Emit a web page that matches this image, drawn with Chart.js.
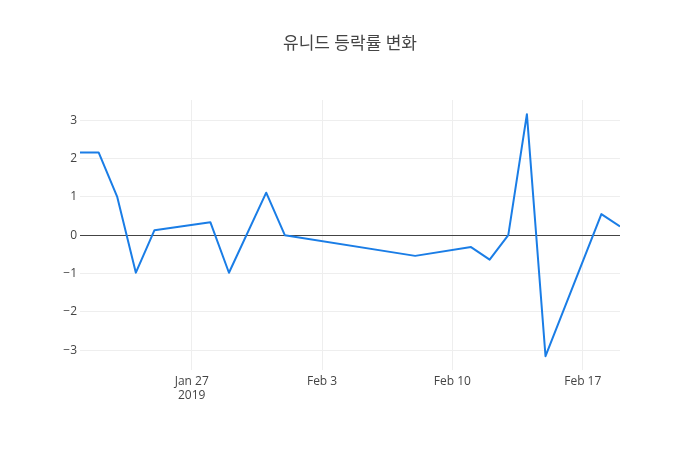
<!DOCTYPE html>
<html>
<head>
<meta charset="utf-8">
<script src="https://cdn.jsdelivr.net/npm/chart.js@4.4.1/dist/chart.umd.min.js"></script>
<style>
  html, body { margin: 0; padding: 0; background: #fff; }
  #wrap { width: 700px; height: 450px; }
</style>
</head>
<body>
<div id="wrap"><canvas id="chart" width="700" height="450"></canvas></div>
<script>
// 데이터
const fechas = ['2019-01-21', '2019-01-22', '2019-01-23', '2019-01-24', '2019-01-25',
                '2019-01-28', '2019-01-29', '2019-01-31', '2019-02-01', '2019-02-08',
                '2019-02-11', '2019-02-12', '2019-02-13', '2019-02-14', '2019-02-15',
                '2019-02-18', '2019-02-19'];
const valores = [2.16, 2.16, 1.0, -0.98, 0.13,
                 0.34, -0.98, 1.11, 0.0, -0.54,
                 -0.31, -0.64, 0.0, 3.16, -3.16,
                 0.55, 0.23];
const tickFechas = ['2019-01-27', '2019-02-03', '2019-02-10', '2019-02-17'];
const tickTextos = [['Jan 27', '2019'], 'Feb 3', 'Feb 10', 'Feb 17'];
const yTicks = [-3, -2, -1, 0, 1, 2, 3];
const titulo = '유니드 등락률 변화';

// fecha -> dias desde el inicio
const DIA = 86400000;
const base = Date.parse(fechas[0]);
const aDia = f => (Date.parse(f) - base) / DIA;

const puntos = fechas.map((f, i) => ({ x: aDia(f), y: valores[i] }));
const tickDias = tickFechas.map(aDia);

const FONT = '"Open Sans", "Noto Sans CJK KR", sans-serif';

// titulo dibujado a mano
const tituloPlugin = {
    id: 'tituloPlugin',
    afterDraw(chart) {
        const ctx = chart.ctx;
        ctx.save();
        ctx.font = '17px ' + FONT;
        ctx.fillStyle = '#444';
        ctx.textAlign = 'center';
        ctx.textBaseline = 'middle';
        ctx.fillText(titulo, 350, 44);
        ctx.restore();
    }
};

new Chart(document.getElementById('chart'), {
    type: 'line',
    data: {
        datasets: [{
            data: puntos,
            borderColor: '#1a7de6',
            borderWidth: 2,
            borderJoinStyle: 'round',
            pointRadius: 0,
            tension: 0,
            fill: false
        }]
    },
    options: {
        responsive: false,
        animation: false,
        layout: { padding: { top: 100, right: 80, left: 0, bottom: 0 } },
        plugins: {
            legend: { display: false },
            tooltip: { enabled: false }
        },
        scales: {
            x: {
                type: 'linear',
                min: 0,
                max: aDia(fechas[fechas.length - 1]),
                border: { display: false },
                grid: { color: '#eee', drawTicks: false },
                afterBuildTicks: scale => {
                    scale.ticks = tickDias.map(v => ({ value: v }));
                },
                afterFit: scale => { scale.height = 80; },
                ticks: {
                    autoSkip: false,
                    maxRotation: 0,
                    padding: 4,
                    color: '#444',
                    font: { family: FONT, size: 12 },
                    callback: (v, i) => tickTextos[i]
                }
            },
            y: {
                min: -3.52,
                max: 3.53,
                border: { display: false },
                grid: {
                    drawTicks: false,
                    color: c => (c.tick && c.tick.value === 0) ? '#444' : '#eee'
                },
                afterBuildTicks: scale => {
                    scale.ticks = yTicks.map(v => ({ value: v }));
                },
                afterFit: scale => { scale.width = 80; },
                ticks: {
                    padding: 3,
                    color: '#444',
                    font: { family: FONT, size: 12 },
                    callback: v => (v < 0 ? '\u2212' + Math.abs(v) : String(v))
                }
            }
        }
    },
    plugins: [tituloPlugin]
});
</script>
</body>
</html>
